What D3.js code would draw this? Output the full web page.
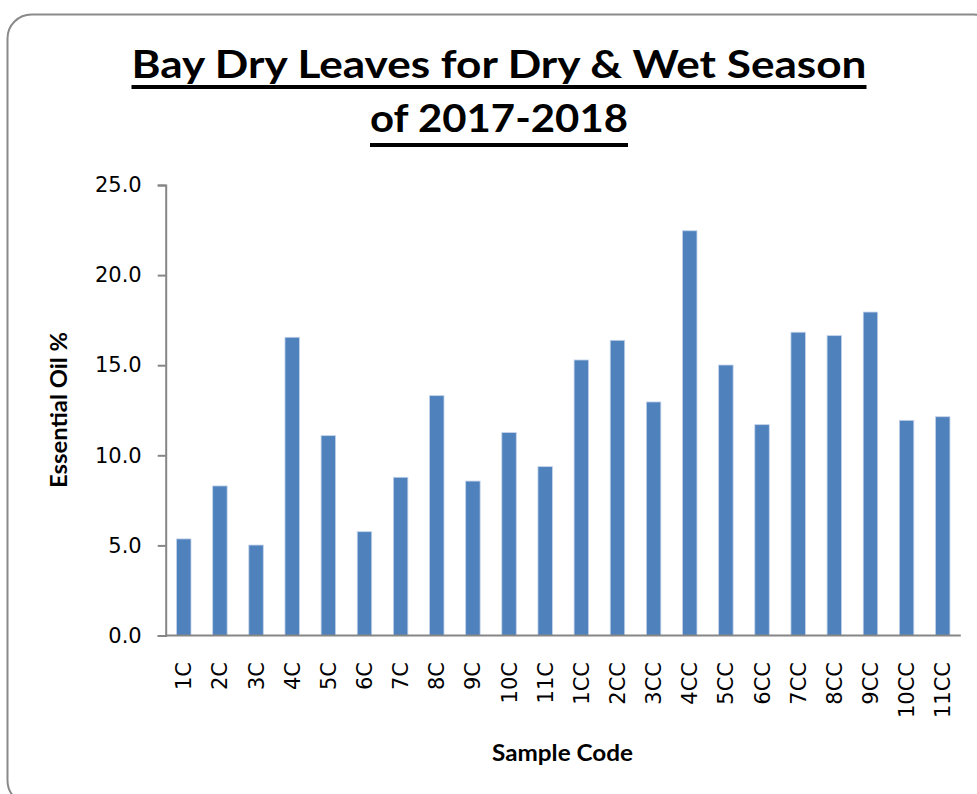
<!DOCTYPE html>
<html>
<head>
<meta charset="utf-8">
<script src="https://cdn.jsdelivr.net/npm/d3@7"></script>
<style>
  body { margin: 0; background: #fff; }
  svg { display: block; }
</style>
</head>
<body>
<svg id="chart" width="977" height="794"></svg>
<script>
// data
const sampleCodes = ['1C', '2C', '3C', '4C', '5C', '6C', '7C', '8C', '9C', '10C', '11C',
    '1CC', '2CC', '3CC', '4CC', '5CC', '6CC', '7CC', '8CC', '9CC', '10CC', '11CC'];
const oilPercent = [5.36, 8.30, 5.02, 16.55, 11.09, 5.76, 8.78, 13.31, 8.57, 11.26, 9.37,
    15.29, 16.38, 12.96, 22.46, 15.01, 11.70, 16.83, 16.64, 17.95, 11.94, 12.14];
const yTicks = [0, 5, 10, 15, 20, 25];
const titleLines = ['Bay Dry Leaves for Dry & Wet Season', 'of 2017-2018'];

const svg = d3.select('#chart');

// frame
svg.append('rect')
    .attr('x', 7.5).attr('y', 14.5)
    .attr('width', 990).attr('height', 790)
    .attr('rx', 24).attr('ry', 24)
    .attr('fill', '#fff')
    .attr('stroke', '#8a8a8a')
    .attr('stroke-width', 2);

const plot = { left: 165.7, right: 960.8, top: 185, bottom: 635.5 };

const x = d3.scaleBand()
    .domain(sampleCodes)
    .range([plot.left, plot.right])
    .paddingInner(0.6)
    .paddingOuter(0.3);

const y = d3.scaleLinear()
    .domain([0, 25])
    .range([plot.bottom, plot.top]);

// ---------------------------------------------------------------
// Title
// ---------------------------------------------------------------
const titleFont = 'Lato, "Open Sans", sans-serif';
const titleSpecs = [
    { text: titleLines[0], baseline: 78, width: 735, underline: 87 },
    { text: titleLines[1], baseline: 132, width: 258, underline: 145 }
];
titleSpecs.forEach(t => {
    svg.append('text')
        .attr('x', 499).attr('y', t.baseline)
        .attr('text-anchor', 'middle')
        .attr('font-family', titleFont)
        .attr('font-weight', 'bold')
        .attr('font-size', 39)
        .attr('textLength', t.width)
        .attr('lengthAdjust', 'spacingAndGlyphs')
        .attr('fill', '#000')
        .text(t.text);
    svg.append('rect')
        .attr('x', 499 - t.width / 2).attr('y', t.underline - 2)
        .attr('width', t.width).attr('height', 4)
        .attr('fill', '#000');
});

// ---------------------------------------------------------------
// Bars
// ---------------------------------------------------------------
svg.append('g')
    .selectAll('rect')
    .data(sampleCodes)
    .enter().append('rect')
    .attr('x', d => x(d))
    .attr('y', (d, i) => y(oilPercent[i]))
    .attr('width', x.bandwidth())
    .attr('height', (d, i) => y(0) - y(oilPercent[i]))
    .attr('fill', '#4f81bd')
    .attr('stroke', '#c3d3ea')
    .attr('stroke-width', 0.8);

// ---------------------------------------------------------------
// Axes
// ---------------------------------------------------------------
const yAxis = svg.append('g')
    .attr('transform', `translate(${plot.left},0)`)
    .call(d3.axisLeft(y).tickValues(yTicks).tickFormat(d3.format('.1f')).tickSize(8).tickPadding(16));
yAxis.attr('font-family', '"DejaVu Sans", sans-serif').attr('font-size', 21);
yAxis.select('.domain').attr('stroke', '#868686').attr('stroke-width', 2);
yAxis.selectAll('.tick line').attr('stroke', '#868686').attr('stroke-width', 2);
yAxis.selectAll('.tick text').attr('fill', '#000');

svg.append('line')
    .attr('x1', plot.left).attr('x2', plot.right)
    .attr('y1', y(0)).attr('y2', y(0))
    .attr('stroke', '#868686')
    .attr('stroke-width', 2);

svg.append('g')
    .selectAll('text')
    .data(sampleCodes)
    .enter().append('text')
    .attr('transform', d => `translate(${x(d) + x.bandwidth() / 2},662) rotate(-90)`)
    .attr('text-anchor', 'end')
    .attr('dy', '0.36em')
    .attr('font-family', '"DejaVu Sans", sans-serif')
    .attr('font-size', 21)
    .attr('fill', '#000')
    .text(d => d);

// axis titles
svg.append('text')
    .attr('x', 562.5).attr('y', 761)
    .attr('text-anchor', 'middle')
    .attr('font-family', titleFont)
    .attr('font-weight', 'bold')
    .attr('font-size', 23)
    .attr('textLength', 141)
    .attr('lengthAdjust', 'spacingAndGlyphs')
    .text('Sample Code');

svg.append('text')
    .attr('transform', 'translate(67,410) rotate(-90)')
    .attr('text-anchor', 'middle')
    .attr('font-family', titleFont)
    .attr('font-weight', 'bold')
    .attr('font-size', 23)
    .attr('textLength', 156)
    .attr('lengthAdjust', 'spacingAndGlyphs')
    .text('Essential Oil %');
</script>
</body>
</html>
